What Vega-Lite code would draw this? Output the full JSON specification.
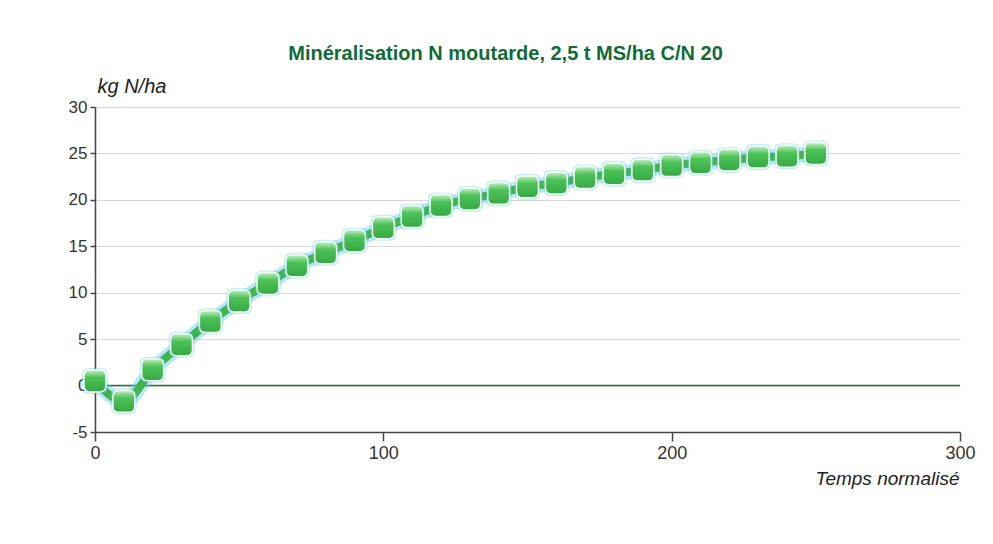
{
  "$schema": "https://vega.github.io/schema/vega-lite/v6.json",
  "autosize": "none",
  "width": 865,
  "height": 325,
  "padding": {"left": 95, "top": 107, "right": 33, "bottom": 112},
  "background": "white",
  "title": {
    "text": "Minéralisation N moutarde, 2,5 t MS/ha C/N 20",
    "font": "Liberation Sans",
    "fontWeight": "bold",
    "fontSize": 20,
    "color": "#116b38",
    "anchor": "middle",
    "dx": -22,
    "offset": 12
  },
  "config": {
    "view": {"stroke": null},
    "axis": {
      "labelFont": "Liberation Sans",
      "titleFont": "Liberation Sans",
      "labelColor": "#333333",
      "titleColor": "#222222",
      "domainColor": "#444444",
      "tickColor": "#444444",
      "domainWidth": 1.5,
      "tickWidth": 1.5
    }
  },
  "data": {
    "values": [
      {"t": 0, "n": 0.5},
      {"t": 10, "n": -1.7},
      {"t": 20, "n": 1.7},
      {"t": 30, "n": 4.4},
      {"t": 40, "n": 6.9},
      {"t": 50, "n": 9.1},
      {"t": 60, "n": 11.0},
      {"t": 70, "n": 12.9},
      {"t": 80, "n": 14.3},
      {"t": 90, "n": 15.6},
      {"t": 100, "n": 17.0},
      {"t": 110, "n": 18.2},
      {"t": 120, "n": 19.4},
      {"t": 130, "n": 20.1},
      {"t": 140, "n": 20.7},
      {"t": 150, "n": 21.4},
      {"t": 160, "n": 21.8},
      {"t": 170, "n": 22.4},
      {"t": 180, "n": 22.8},
      {"t": 190, "n": 23.2},
      {"t": 200, "n": 23.7},
      {"t": 210, "n": 24.0},
      {"t": 220, "n": 24.3},
      {"t": 230, "n": 24.6},
      {"t": 240, "n": 24.7},
      {"t": 250, "n": 25.0}
    ]
  },
  "encoding": {
    "x": {
      "field": "t",
      "type": "quantitative",
      "scale": {"domain": [0, 300], "nice": false, "zero": false},
      "axis": {
        "values": [0, 100, 200, 300],
        "grid": false,
        "tickSize": 9,
        "labelFontSize": 18,
        "labelPadding": 3,
        "labelFlush": false,
        "title": "Temps normalisé",
        "titleFontSize": 19,
        "titleFontStyle": "italic",
        "titleFontWeight": "normal",
        "titleAnchor": "end",
        "titleAlign": "right",
        "titleX": 864,
        "titleY": 52,
        "titleBaseline": "alphabetic"
      }
    },
    "y": {
      "field": "n",
      "type": "quantitative",
      "scale": {"domain": [-5, 30], "nice": false, "zero": false},
      "axis": {
        "values": [-5, 0, 5, 10, 15, 20, 25, 30],
        "labelExpr": "'' + datum.value",
        "gridColor": "#d8d8d8",
        "gridWidth": 1,
        "tickSize": 5,
        "labelFontSize": 17,
        "labelPadding": 3,
        "labelFlush": false,
        "title": "kg N/ha",
        "titleFontSize": 20,
        "titleFontStyle": "italic",
        "titleFontWeight": "normal",
        "titleAngle": 0,
        "titleAlign": "left",
        "titleX": 2,
        "titleY": -15,
        "titleBaseline": "alphabetic"
      }
    }
  },
  "layer": [
    {
      "data": {"values": [{"zero": 0}]},
      "mark": {"type": "rule", "color": "#1f7a3c", "strokeWidth": 1.5},
      "encoding": {"y": {"field": "zero", "type": "quantitative"}, "x": null}
    },
    {
      "mark": {"type": "line", "interpolate": "monotone", "color": "#62c8f5", "strokeWidth": 15, "opacity": 0.45, "strokeCap": "round", "strokeJoin": "round"}
    },
    {
      "mark": {"type": "line", "interpolate": "monotone", "color": "#3db54a", "strokeWidth": 8, "strokeCap": "round", "strokeJoin": "round"}
    },
    {
      "mark": {
        "type": "point",
        "filled": true,
        "shape": "M -1 -0.45 Q -1 -1 -0.45 -1 L 0.45 -1 Q 1 -1 1 -0.45 L 1 0.45 Q 1 1 0.45 1 L -0.45 1 Q -1 1 -1 0.45 Z",
        "size": 680,
        "color": "#62c8f5",
        "opacity": 0.35
      }
    },
    {
      "mark": {
        "type": "point",
        "filled": true,
        "shape": "M -1 -0.45 Q -1 -1 -0.45 -1 L 0.45 -1 Q 1 -1 1 -0.45 L 1 0.45 Q 1 1 0.45 1 L -0.45 1 Q -1 1 -1 0.45 Z",
        "size": 480,
        "opacity": 1,
        "fill": {
          "gradient": "linear",
          "x1": 0, "y1": 0, "x2": 0, "y2": 1,
          "stops": [
            {"offset": 0, "color": "#c4f0c4"},
            {"offset": 0.35, "color": "#4cc258"},
            {"offset": 1, "color": "#35a843"}
          ]
        },
        "stroke": "#f4fff4",
        "strokeWidth": 1.5
      }
    }
  ]
}
